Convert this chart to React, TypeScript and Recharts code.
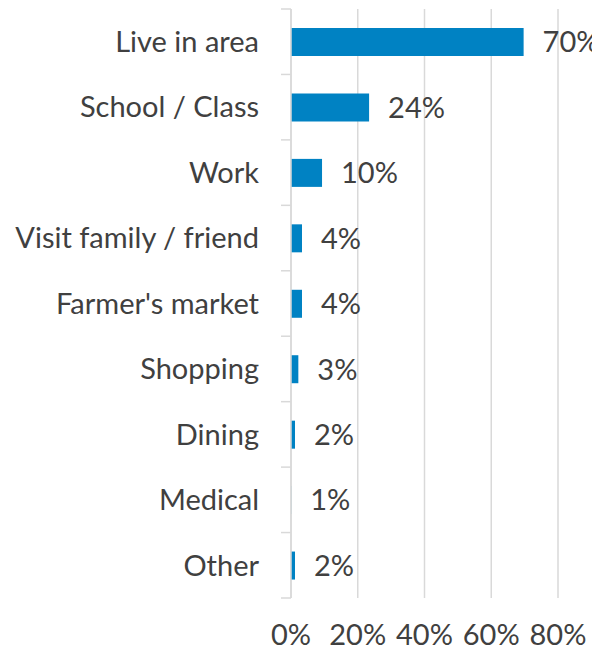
import React from 'react';
import { BarChart, Bar, XAxis, YAxis, CartesianGrid, LabelList } from 'recharts';

const categories = ['Live in area', 'School / Class', 'Work', 'Visit family / friend', "Farmer's market", 'Shopping', 'Dining', 'Medical', 'Other'];
const values = [69.7, 23.4, 9.3, 3.3, 3.3, 2.2, 1.2, 0.05, 1.2];
const labels = ['70%', '24%', '10%', '4%', '4%', '3%', '2%', '1%', '2%'];
const xTicks = [0, 20, 40, 60, 80];

const data = categories.map((c, i) => ({ name: c, value: values[i], label: labels[i] }));

const FONT = 'Lato, "Open Sans", sans-serif';
const GRID = '#d9d9d9';
const TEXT = '#404040';
const FS = 29;
const LABEL_GAP = 32;
const TICK_LEN = 10;

function CategoryTick(props: any) {
  const { x, y, payload, index, visibleTicksCount } = props;
  const axisX = x + LABEL_GAP;
  const half = payload && payload.offset ? payload.offset : 0;
  const isLast = index === (visibleTicksCount ?? categories.length) - 1;
  return (
    <g>
      <line x1={axisX - TICK_LEN} x2={axisX} y1={y - half} y2={y - half} stroke={GRID} strokeWidth={1.5} />
      {isLast && (
        <line x1={axisX - TICK_LEN} x2={axisX} y1={y + half} y2={y + half} stroke={GRID} strokeWidth={1.5} />
      )}
      <text x={x} y={y} dy="0.355em" textAnchor="end" fill={TEXT} fontSize={FS} fontFamily={FONT}>
        {payload.value}
      </text>
    </g>
  );
}

export default function App() {
  return (
    <div style={{ position: 'absolute', left: 0, top: 0, width: 592, height: 655, background: '#fff' }}>
      <BarChart
        width={592}
        height={655}
        data={data}
        layout="vertical"
        margin={{ top: 9, right: 34, bottom: 0, left: 0 }}
        style={{ fontFamily: FONT }}
      >
        <CartesianGrid horizontal={false} vertical={true} stroke={GRID} strokeWidth={1.5} />
        <XAxis
          type="number"
          domain={[0, 80]}
          ticks={xTicks}
          tickFormatter={(v: number) => `${v}%`}
          axisLine={false}
          tickLine={false}
          tickSize={0}
          tickMargin={26}
          height={57}
          tick={{ fill: TEXT, fontSize: FS, fontFamily: FONT }}
          interval={0}
        />
        <YAxis
          type="category"
          dataKey="name"
          width={291}
          axisLine={{ stroke: GRID, strokeWidth: 1.5 }}
          tickLine={false}
          tickSize={0}
          tickMargin={LABEL_GAP}
          tick={<CategoryTick />}
          interval={0}
        />
        <Bar dataKey="value" fill="#0082C3" barSize={28} isAnimationActive={false}>
          <LabelList dataKey="label" position="right" offset={19} fill={TEXT} fontSize={FS} fontFamily={FONT} />
        </Bar>
      </BarChart>
    </div>
  );
}
